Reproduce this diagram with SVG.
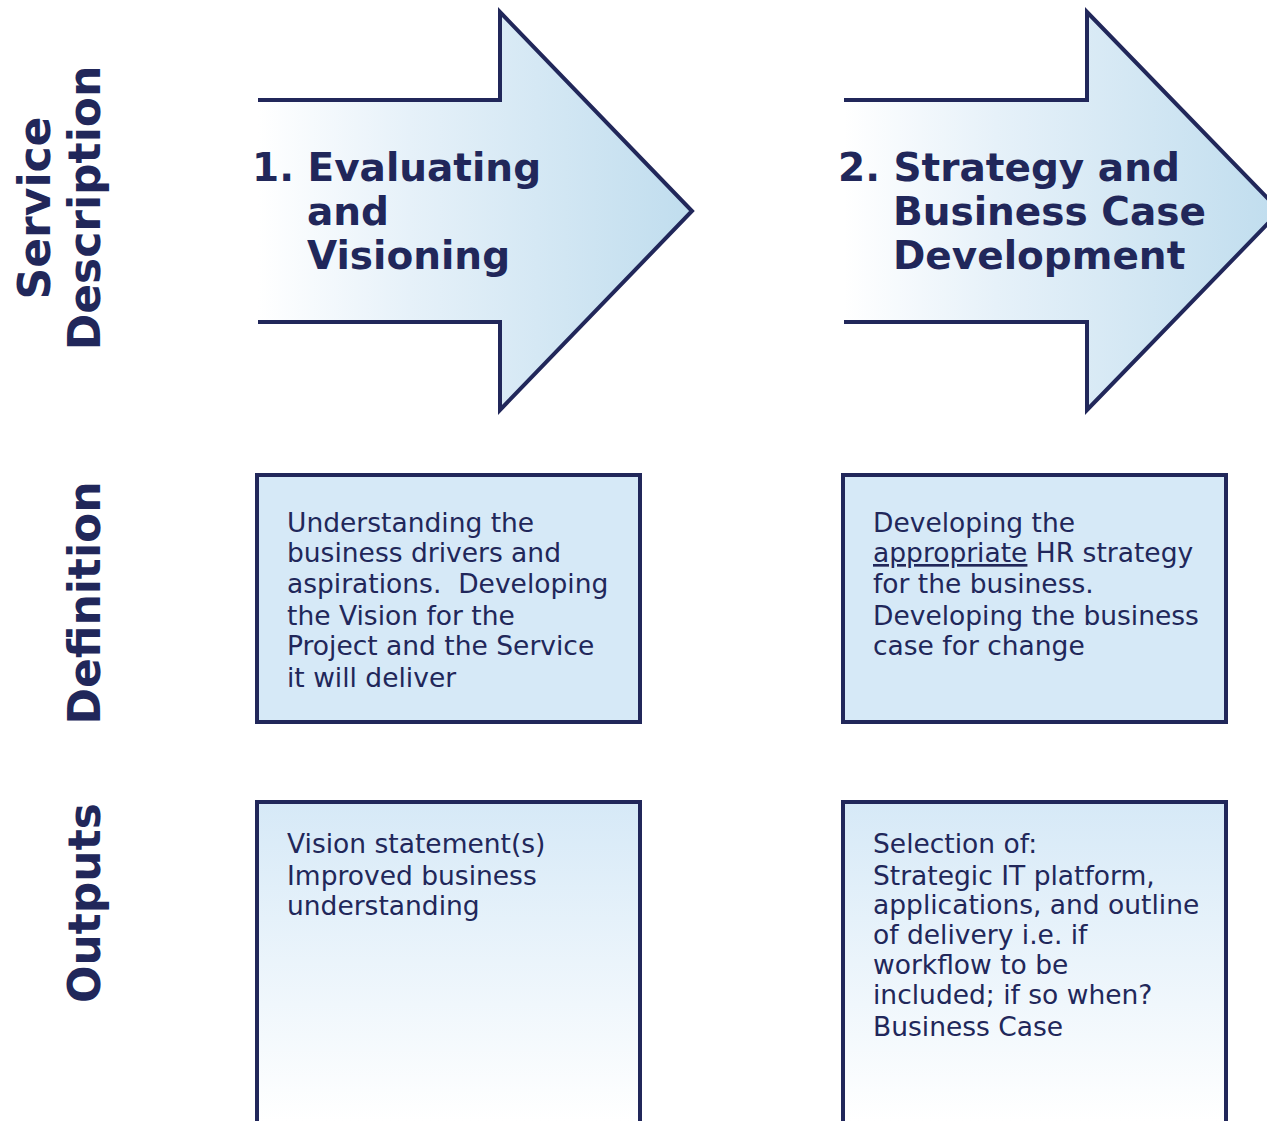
<svg xmlns="http://www.w3.org/2000/svg" width="1267" height="1121" viewBox="0 0 1267 1121">
<defs>
<linearGradient id="ga1" gradientUnits="userSpaceOnUse" x1="258" y1="0" x2="692" y2="0">
<stop offset="0" stop-color="#ffffff"/><stop offset="0.35" stop-color="#e6f1f9"/><stop offset="1" stop-color="#c0ddee"/>
</linearGradient>
<linearGradient id="ga2" gradientUnits="userSpaceOnUse" x1="844" y1="0" x2="1280" y2="0">
<stop offset="0" stop-color="#ffffff"/><stop offset="0.35" stop-color="#e6f1f9"/><stop offset="1" stop-color="#c0ddee"/>
</linearGradient>
<linearGradient id="gout" gradientUnits="userSpaceOnUse" x1="0" y1="802" x2="0" y2="1121">
<stop offset="0" stop-color="#d6e9f7"/><stop offset="1" stop-color="#ffffff"/>
</linearGradient>
<style>
.ln{stroke:#21275a;stroke-width:4;fill:none}
.bx{stroke:#21275a;stroke-width:4}
.def{fill:#d6e9f7}
.hd{font-family:"DejaVu Sans","Liberation Sans",sans-serif;font-weight:bold;font-size:39px;fill:#21275a}
.side{font-family:"DejaVu Sans","Liberation Sans",sans-serif;font-weight:bold;font-size:44px;fill:#21275a;text-anchor:middle}
.tx{font-family:"DejaVu Sans","Liberation Sans",sans-serif;font-size:26.5px;fill:#21275a}
</style>
</defs>
<g id="labels">
<text class="side" transform="translate(50,208) rotate(-90)">Service</text>
<text class="side" transform="translate(100,208) rotate(-90)">Description</text>
<text class="side" transform="translate(100,603) rotate(-90)">Definition</text>
<text class="side" transform="translate(100,903) rotate(-90)">Outputs</text>
</g>
<g id="arrow1">
<path d="M258,322 L500,322 L500,410 L692,211 L500,12 L500,100 L258,100 Z" fill="url(#ga1)"/>
<path class="ln" d="M258,100 L500,100 L500,12 L692,211 L500,410 L500,322 L258,322"/>
<text class="hd" x="252" y="181">1. Evaluating</text>
<text class="hd" x="307" y="225">and</text>
<text class="hd" x="307" y="269">Visioning</text>
</g>
<g id="arrow2">
<path d="M844,322 L1087,322 L1087,410 L1280,211 L1087,12 L1087,100 L844,100 Z" fill="url(#ga2)"/>
<path class="ln" d="M844,100 L1087,100 L1087,12 L1280,211 L1087,410 L1087,322 L844,322"/>
<text class="hd" x="838" y="181">2. Strategy and</text>
<text class="hd" x="893" y="225">Business Case</text>
<text class="hd" x="893" y="269">Development</text>
</g>
<g id="def1">
<rect class="bx def" x="257" y="475" width="383" height="247"/>
<text class="tx" x="287" y="532">Understanding the</text>
<text class="tx" x="287" y="562">business drivers and</text>
<text class="tx" x="287" y="593" xml:space="preserve">aspirations.  Developing</text>
<text class="tx" x="287" y="625">the Vision for the</text>
<text class="tx" x="287" y="655">Project and the Service</text>
<text class="tx" x="287" y="687">it will deliver</text>
</g>
<g id="def2">
<rect class="bx def" x="843" y="475" width="383" height="247"/>
<text class="tx" x="873" y="532">Developing the</text>
<text class="tx" x="873" y="562"><tspan text-decoration="underline">appropriate</tspan> HR strategy</text>
<text class="tx" x="873" y="593">for the business.</text>
<text class="tx" x="873" y="625">Developing the business</text>
<text class="tx" x="873" y="655">case for change</text>
</g>
<g id="out1">
<path d="M257,1125 L257,802 L640,802 L640,1125 Z" fill="url(#gout)" class="bx"/>
<text class="tx" x="287" y="853">Vision statement(s)</text>
<text class="tx" x="287" y="885">Improved business</text>
<text class="tx" x="287" y="915">understanding</text>
</g>
<g id="out2">
<path d="M843,1125 L843,802 L1226,802 L1226,1125 Z" fill="url(#gout)" class="bx"/>
<text class="tx" x="873" y="853">Selection of:</text>
<text class="tx" x="873" y="885">Strategic IT platform,</text>
<text class="tx" x="873" y="914">applications, and outline</text>
<text class="tx" x="873" y="944">of delivery i.e. if</text>
<text class="tx" x="873" y="974">workflow to be</text>
<text class="tx" x="873" y="1004">included; if so when?</text>
<text class="tx" x="873" y="1036">Business Case</text>
</g>
<g id="connectors"/>
</svg>
